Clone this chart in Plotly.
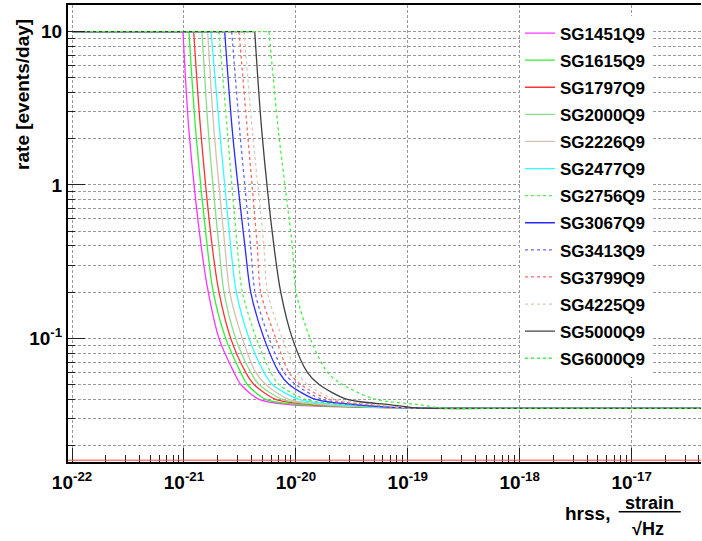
import plotly.graph_objects as go

# ---------------- data ----------------
SERIES = ["SG1451Q9", "SG1615Q9", "SG1797Q9", "SG2000Q9", "SG2226Q9", "SG2477Q9",
          "SG2756Q9", "SG3067Q9", "SG3413Q9", "SG3799Q9", "SG4225Q9", "SG5000Q9", "SG6000Q9"]

# rate [events/day] levels at which the curves were read
RATE = [10, 10, 2.27, 0.395, 0.2, 0.1, 0.06, 0.05, 0.04, 0.037, 0.0352, 0.035, 0.035]

# hrss values (strain/sqrt(Hz)) at each rate level, per series
HRSS_1451 = [1e-22, 0.98e-21, 1.108e-21, 1.428e-21, 1.650e-21, 2.056e-21, 2.80e-21, 3.22e-21, 4.69e-21, 8.69e-21, 1e-19, 1e-18, 1e-16]
HRSS_1615 = [1e-22, 1.108e-21, 1.273e-21, 1.616e-21, 1.828e-21, 2.360e-21, 3.215e-21, 3.684e-21, 5.38e-21, 10.68e-21, 1e-19, 1e-18, 1e-16]
HRSS_1797 = [1e-22, 1.221e-21, 1.411e-21, 1.791e-21, 2.056e-21, 2.617e-21, 3.564e-21, 4.227e-21, 6.61e-21, 13.68e-21, 1e-19, 1e-18, 1e-16]
HRSS_2000 = [1e-22, 1.449e-21, 1.650e-21, 2.056e-21, 2.280e-21, 2.900e-21, 3.951e-21, 4.686e-21, 7.57e-21, 16.13e-21, 1e-19, 1e-18, 1e-16]
HRSS_2226 = [1e-22, 1.629e-21, 1.855e-21, 2.326e-21, 2.564e-21, 3.323e-21, 4.379e-21, 5.380e-21, 8.69e-21, 19.0e-21, 1e-19, 1e-18, 1e-16]
HRSS_2477 = [1e-22, 1.744e-21, 2.086e-21, 2.617e-21, 2.937e-21, 3.814e-21, 5.194e-21, 6.166e-21, 10.68e-21, 23.36e-21, 1e-19, 1e-18, 1e-16]
HRSS_2756 = [1e-22, 2.056e-21, 2.439e-21, 2.997e-21, 3.323e-21, 4.434e-21, 5.963e-21, 7.072e-21, 12.26e-21, 26.98e-21, 1e-19, 1e-18, 1e-16]
HRSS_3067 = [1e-22, 2.312e-21, 2.704e-21, 3.512e-21, 3.950e-21, 5.195e-21, 7.074e-21, 8.69e-21, 15.07e-21, 33.17e-21, 1e-19, 1e-18, 1e-16]
HRSS_3413 = [1e-22, 2.671e-21, 3.150e-21, 3.950e-21, 4.316e-21, 5.757e-21, 7.843e-21, 9.98e-21, 17.26e-21, 38.31e-21, 1e-19, 1e-18, 1e-16]
HRSS_3799 = [1e-22, 3.105e-21, 3.683e-21, 4.524e-21, 4.853e-21, 6.61e-21, 8.69e-21, 11.06e-21, 19.82e-21, 45.15e-21, 1e-19, 1e-18, 1e-16]
HRSS_4225 = [1e-22, 3.441e-21, 4.082e-21, 5.195e-21, 5.562e-21, 7.572e-21, 10.31e-21, 12.67e-21, 22.75e-21, 53.24e-21, 1.05e-19, 1e-18, 1e-16]
HRSS_5000 = [1e-22, 4.290e-21, 4.955e-21, 6.383e-21, 7.325e-21, 9.305e-21, 12.67e-21, 16.13e-21, 28.88e-21, 68.17e-21, 1.2e-19, 1e-18, 1e-16]
HRSS_6000 = [1e-22, 5.757e-21, 6.974e-21, 9.305e-21, 10.04e-21, 13.40e-21, 19.13e-21, 26.06e-21, 51.84e-21, 126.5e-21, 2.0e-19, 1e-18, 1e-16]

HRSS = [HRSS_1451, HRSS_1615, HRSS_1797, HRSS_2000, HRSS_2226, HRSS_2477, HRSS_2756,
        HRSS_3067, HRSS_3413, HRSS_3799, HRSS_4225, HRSS_5000, HRSS_6000]

X_TICKS = [1e-22, 1e-21, 1e-20, 1e-19, 1e-18, 1e-17]
X_TICKTEXT = ["10<sup>-22</sup>", "10<sup>-21</sup>", "10<sup>-20</sup>", "10<sup>-19</sup>",
              "10<sup>-18</sup>", "10<sup>-17</sup>"]
Y_TICKS = [0.1, 1, 10]
Y_TICKTEXT = ["10<sup>-1</sup>", "1", "10"]

MANTISSAS = [2, 3, 4, 5, 6, 7, 8, 9]
X_DECADES = [1e-22, 1e-21, 1e-20, 1e-19, 1e-18, 1e-17]
Y_DECADES = [0.01, 0.1, 1, 10]
X_MINOR = [m * d for d in X_DECADES for m in MANTISSAS]
Y_MINOR = [m * d for d in Y_DECADES for m in MANTISSAS]

# ---------------- styles ----------------
COLORS = ["#ff33ff", "#33ee33", "#ff3333", "#88dd88", "#d4c0ae", "#33ffff", "#55ee55",
          "#2a2aff", "#6666ff", "#ff6666", "#dcc8b8", "#404040", "#44ee44"]
DASHES = ["solid", "solid", "solid", "solid", "solid", "solid", "dot",
          "solid", "dot", "dot", "dot", "solid", "dot"]

FONT = "Liberation Sans, Arial, Helvetica, sans-serif"

fig = go.Figure()
for name, xs, col, dash in zip(SERIES, HRSS, COLORS, DASHES):
    # flat (capped) part of the curve
    fig.add_trace(go.Scatter(
        x=xs[:2], y=RATE[:2], mode="lines", name=name, legendgroup=name,
        line=dict(color=col, width=1.3, dash=dash),
    ))
    # falling part of the curve, smoothed
    fig.add_trace(go.Scatter(
        x=xs[1:], y=RATE[1:], mode="lines", name=name, legendgroup=name,
        showlegend=False,
        line=dict(color=col, width=1.3, dash=dash, shape="spline", smoothing=0.8),
    ))

grid_col = "#9a9a9a"
fig.update_xaxes(
    type="log", range=[-22.036, -16.38],
    tickmode="array", tickvals=X_TICKS, ticktext=X_TICKTEXT,
    ticks="inside", ticklen=14, tickcolor="#222", tickwidth=1,
    ticklabelstandoff=2,
    showgrid=True, gridcolor=grid_col, griddash="3px,2px", gridwidth=1,
    minor=dict(tickmode="array", tickvals=X_MINOR, ticks="inside", ticklen=7,
               tickcolor="#222", showgrid=False),
    showline=True, linecolor="black", linewidth=2, mirror=True,
    tickfont=dict(family=FONT, size=19, color="black", weight="bold"),
    zeroline=False,
)
fig.update_yaxes(
    type="log", range=[-1.806, 1.173],
    tickmode="array", tickvals=Y_TICKS, ticktext=Y_TICKTEXT,
    ticks="inside", ticklen=17, tickcolor="#222", tickwidth=1,
    showgrid=True, gridcolor=grid_col, griddash="3px,2px", gridwidth=1,
    minor=dict(tickmode="array", tickvals=Y_MINOR, ticks="inside", ticklen=7,
               tickcolor="#222", showgrid=True,
               gridcolor=grid_col, griddash="3px,2px", gridwidth=1),
    showline=True, linecolor="black", linewidth=2, mirror=False,
    tickfont=dict(family=FONT, size=19, color="black", weight="bold"),
    zeroline=False,
)

# thin red line along the bottom of the frame
fig.add_shape(type="line", xref="paper", yref="paper", x0=0, x1=1, y0=0.004, y1=0.004,
              line=dict(color="#ff4444", width=1))

# x-axis title: hrss, strain / sqrt(Hz)
ann_font = dict(family=FONT, size=19, color="black", weight="bold")
frac_font = dict(family=FONT, size=18, color="black", weight="bold")
fig.add_annotation(text="hrss,", xref="paper", yref="paper", x=0.820, y=-0.112,
                   showarrow=False, font=ann_font, xanchor="center", yanchor="middle")
fig.add_annotation(text="strain", xref="paper", yref="paper", x=0.918, y=-0.089,
                   showarrow=False, font=frac_font, xanchor="center", yanchor="middle")
fig.add_annotation(text="√Hz", xref="paper", yref="paper", x=0.916, y=-0.147,
                   showarrow=False, font=frac_font, xanchor="center", yanchor="middle")
fig.add_shape(type="line", xref="paper", yref="paper", x0=0.870, x1=0.968, y0=-0.109, y1=-0.109,
              line=dict(color="black", width=1.5))

# y-axis title
fig.add_annotation(text="rate [events/day]", xref="paper", yref="paper", x=-0.073, y=0.805,
                   textangle=-90, showarrow=False, font=ann_font,
                   xanchor="center", yanchor="middle")

fig.update_layout(
    width=702, height=541,
    margin=dict(l=68, r=1, t=5, b=79),
    paper_bgcolor="white", plot_bgcolor="white",
    font=dict(family=FONT, color="black"),
    showlegend=True,
    legend=dict(
        x=0.714, y=0.977, xanchor="left", yanchor="top",
        bgcolor="white", borderwidth=0,
        font=dict(family=FONT, size=17, color="black", weight="bold"),
        traceorder="grouped", tracegroupgap=2,
    ),
)

fig.write_html("out.html", config={"displayModeBar": False},
               post_script="document.body.style.margin='0';")
